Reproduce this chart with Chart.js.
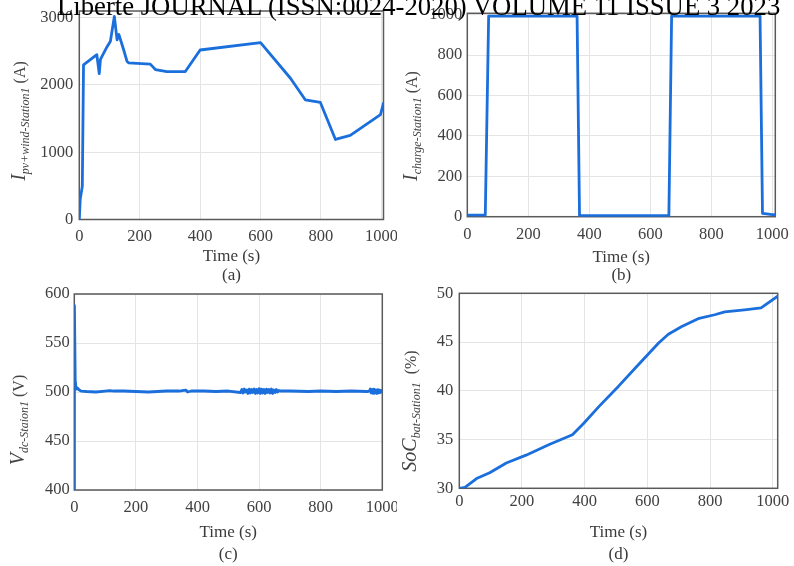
<!DOCTYPE html>
<html>
<head>
<meta charset="utf-8">
<script src="https://cdn.jsdelivr.net/npm/chart.js@4.4.0/dist/chart.umd.min.js"></script>
<style>
  html, body { margin: 0; padding: 0; background: #fff; }
  #page { position: relative; width: 794px; height: 566px; overflow: hidden; }
  canvas { position: absolute; }
  .head { position: absolute; left: 57px; top: -7px; font-family: "Liberation Serif", serif; font-size: 26.7px; line-height: 26.7px; color: #000; white-space: nowrap; z-index: 5; }
  .ylab { position: absolute; width: 0; height: 0; z-index: 4; }
  .ylab span.t { position: absolute; left: 0; top: 0; transform: translate(-50%, -50%) rotate(-90deg); white-space: nowrap; font-family: "Liberation Serif", serif; color: #444; font-size: 16px; line-height: 1; }
  .ylab i.m { font-size: 20px; }
  .ylab sub { font-style: italic; font-size: 12px; vertical-align: -4px; line-height: 1; }
</style>
</head>
<body>
<div id="page">
  <canvas id="chartA" width="397" height="290" style="left:0;top:0"></canvas>
  <canvas id="chartB" width="397" height="290" style="left:397px;top:0"></canvas>
  <canvas id="chartC" width="397" height="283" style="left:0;top:283px"></canvas>
  <canvas id="chartD" width="397" height="283" style="left:397px;top:283px"></canvas>

  <div class="ylab" style="left:19px;top:121px"><span class="t"><i class="m">I</i><sub>pv+wind-Station1</sub> (A)</span></div>
  <div class="ylab" style="left:411px;top:126px"><span class="t"><i class="m">I</i><sub>charge-Station1</sub> (A)</span></div>
  <div class="ylab" style="left:18px;top:420px"><span class="t"><i class="m">V</i><sub>dc-Staion1</sub> (V)</span></div>
  <div class="ylab" style="left:410px;top:411px"><span class="t"><i class="m">SoC</i><sub>bat-Sation1</sub> &nbsp;(%)</span></div>

  <div class="head">Liberte JOURNAL (ISSN:0024-2020) VOLUME 11 ISSUE 3 2023</div>
</div>
<script>
// tick labels
const timeTicks = [0, 200, 400, 600, 800, 1000];
const ticksA = [0, 1000, 2000, 3000];
const ticksB = [0, 200, 400, 600, 800, 1000];
const ticksC = [400, 450, 500, 550, 600];
const ticksD = [30, 35, 40, 45, 50];

// (a) PV + wind current
const timeA = [0, 3, 10, 14, 58, 66, 70, 92, 103, 116, 125, 131, 138, 147, 158, 163, 235, 252, 290, 351, 400, 600, 699, 748, 798, 848, 897, 997, 1007];
const currentA = [0, 300, 495, 2300, 2450, 2170, 2380, 2570, 2650, 3020, 2670, 2750, 2650, 2520, 2350, 2330, 2310, 2230, 2200, 2200, 2520, 2630, 2100, 1780, 1740, 1190, 1250, 1560, 1730];

// (b) charge current
const timeB = [0, 59, 70, 360, 368, 661, 670, 960, 968, 1000, 1010];
const currentB = [8, 8, 993, 993, 5, 5, 993, 993, 17, 10, 10];

// (c) dc link voltage
const timeC = [0, 0.4, 3, 6, 10, 16, 22, 40, 70, 100, 115, 130, 160, 200, 240, 270, 300, 340, 362, 368, 380, 420, 460, 500,
  540, 544, 548, 552, 556, 560, 564, 568, 572, 576, 580, 584, 588, 592, 596, 600, 604, 608, 612, 616, 620, 624, 628, 632, 636, 640, 644, 648, 652, 656, 660, 664, 668,
  700, 760, 800, 850, 900, 950,
  958, 961, 964, 967, 970, 973, 976, 979, 982, 985, 988, 991, 994, 997, 1000];
const vdcC = [400, 588, 512, 503, 504, 502, 501, 500.5, 500, 501, 501.5, 501, 501, 500.5, 500, 500.5, 501, 501, 502, 500, 501, 501, 500.5, 501,
  499.5, 502.5, 499, 503, 500, 502, 498.5, 503, 499, 502.5, 499.5, 503, 498.5, 502.5, 499, 503.5, 498.5, 503, 499, 502.5, 498.5, 503, 499.5, 502.5, 499, 503, 498.5, 502, 499.5, 502.5, 500, 501.5, 501,
  501, 500.5, 501, 500.5, 501, 500.5,
  501, 503, 499, 502.5, 498.5, 503, 499, 502, 498.5, 502.5, 499, 502, 499.5, 501.5, 500.5];

// (d) battery state of charge
const timeD = [0, 18, 55, 97, 150, 213, 287, 361, 398, 446, 509, 572, 636, 667, 710, 762, 815, 847, 910, 963, 1016];
const socD = [30, 30.1, 31.0, 31.6, 32.6, 33.4, 34.5, 35.5, 36.7, 38.4, 40.5, 42.7, 44.9, 45.8, 46.6, 47.4, 47.8, 48.1, 48.3, 48.5, 49.7];

const serif = 'Liberation Serif';
const tickColor = '#404040';

// draws the full matlab style box round the plot area
const boxPlugin = {
  id: 'box',
  beforeDatasetsDraw(chart) {
    const a = chart.chartArea, c = chart.ctx;
    c.save();
    c.strokeStyle = '#5a5a5a';
    c.lineWidth = 1.5;
    c.strokeRect(a.left, a.top, a.right - a.left, a.bottom - a.top);
    c.restore();
  }
};

function panel(id, xs, ys, yTicks, o) {
  const pts = xs.map((x, i) => ({ x: x, y: ys[i] }));
  return new Chart(document.getElementById(id), {
    type: 'line',
    data: { datasets: [{ data: pts, borderColor: '#1a6fdc', borderWidth: 2.8, borderJoinStyle: 'round', borderCapStyle: 'round', pointRadius: 0, tension: 0 }] },
    options: {
      responsive: false,
      animation: false,
      layout: { autoPadding: false, padding: { left: 0, top: o.pt, right: o.pr, bottom: 0 } },
      plugins: { legend: { display: false }, tooltip: { enabled: false } },
      scales: {
        x: {
          type: 'linear', min: 0, max: o.xMax,
          afterBuildTicks(s) { s.ticks = timeTicks.map(v => ({ value: v })); },
          ticks: { padding: o.xPad, color: tickColor, maxRotation: 0, autoSkip: false, font: { family: serif, size: 16.5 }, callback: v => String(v) },
          grid: { color: '#e4e4e4', drawTicks: false },
          border: { display: false },
          title: { display: true, text: ['Time (s)', o.tag], color: '#3a3a3a', font: { family: serif, size: 17, lineHeight: o.lh + 'px' }, padding: { top: 0, bottom: o.pb } },
          afterFit(s) { s.height = o.hx; s.paddingLeft = 0; s.paddingRight = 0; }
        },
        y: {
          type: 'linear', min: o.yMin, max: o.yMax,
          afterBuildTicks(s) { s.ticks = yTicks.map(v => ({ value: v })); },
          ticks: { padding: o.yPad, color: tickColor, font: { family: serif, size: 16.5 }, callback: v => String(v) },
          grid: { color: '#e4e4e4', drawTicks: false },
          border: { display: false },
          afterFit(s) { s.width = o.wy; s.paddingTop = 0; s.paddingBottom = 0; }
        }
      }
    },
    plugins: [boxPlugin]
  });
}

panel('chartA', timeA, currentA, ticksA, { xMax: 1007, yMin: 0, yMax: 3100, wy: 79.3, hx: 70.5, pt: 11, pr: 13.5, xPad: 7.5, yPad: 6, tag: '(a)', lh: 19, pb: 4.5 });
panel('chartB', timeB, currentB, ticksB, { xMax: 1010, yMin: 0, yMax: 1007, wy: 70.3, hx: 73.3, pt: 13.3, pr: 18.7, xPad: 8.5, yPad: 5, tag: '(b)', lh: 18.5, pb: 4.75 });
panel('chartC', timeC, vdcC, ticksC, { xMax: 1000, yMin: 400, yMax: 600, wy: 74.3, hx: 76, pt: 11, pr: 14.7, xPad: 8, yPad: 4.5, tag: '(c)', lh: 22, pb: 0 });
panel('chartD', timeD, socD, ticksD, { xMax: 1016, yMin: 30, yMax: 50, wy: 62.3, hx: 77.7, pt: 10.3, pr: 16.3, xPad: 3.5, yPad: 6, tag: '(d)', lh: 22, pb: 0 });
</script>
</body>
</html>
